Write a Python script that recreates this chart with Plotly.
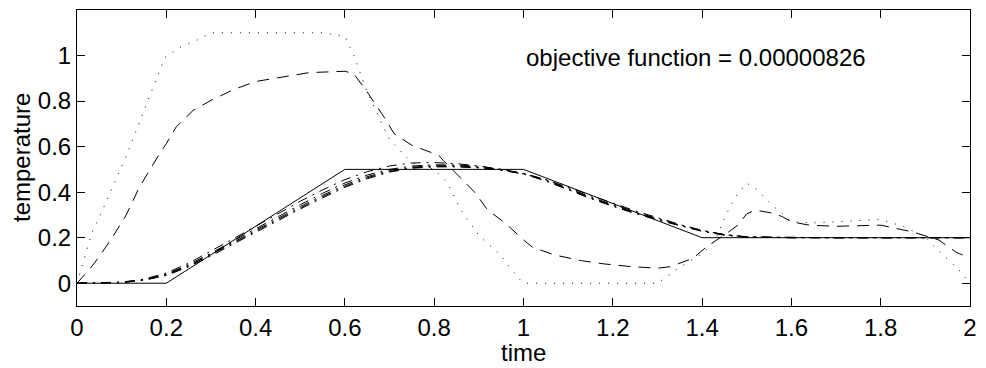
import plotly.graph_objects as go

# target profile (solid)
x_target = [0, 0.2, 0.6, 1.0, 1.4, 2.0]
y_target = [0, 0, 0.5, 0.5, 0.2, 0.2]

# iteration 1 (dotted)
x_it1 = [0, 0.015, 0.033, 0.05, 0.067, 0.085, 0.107, 0.13, 0.152, 0.174, 0.196, 0.23, 0.267, 0.3,
         0.4, 0.5, 0.55, 0.6, 0.62, 0.65, 0.7, 0.75, 0.8, 0.83, 0.86, 0.9, 0.95, 0.985, 1.0,
         1.1, 1.2, 1.3, 1.35, 1.4, 1.43, 1.455, 1.475, 1.5, 1.525, 1.55, 1.6, 1.65, 1.7, 1.8,
         1.85, 1.9, 1.92, 1.95, 1.975, 2.0]
y_it1 = [0, 0.10, 0.22, 0.29, 0.365, 0.445, 0.543, 0.657, 0.766, 0.876, 0.99, 1.036, 1.066, 1.1,
         1.1, 1.1, 1.1, 1.085, 1.0, 0.84, 0.63, 0.53, 0.5, 0.44, 0.32, 0.21, 0.12, 0.03, 0.0,
         0.0, 0.0, 0.0, 0.07, 0.13, 0.19, 0.307, 0.379, 0.44, 0.409, 0.355, 0.27, 0.265, 0.27, 0.28,
         0.25, 0.204, 0.16, 0.105, 0.06, 0.0]

# iteration 2 (dashed)
x_it2 = [0, 0.03, 0.05, 0.08, 0.11, 0.14, 0.185, 0.2, 0.222, 0.26, 0.3, 0.35, 0.4, 0.48, 0.52,
         0.6, 0.62, 0.65, 0.69, 0.71, 0.75, 0.77, 0.81, 0.82, 0.85, 0.89, 0.92, 0.96, 1.0, 1.02,
         1.07, 1.13, 1.18, 1.24, 1.3, 1.33, 1.38, 1.41, 1.46, 1.48, 1.5, 1.52, 1.56, 1.58, 1.6,
         1.64, 1.7, 1.8, 1.87, 1.93, 1.97, 2.0]
y_it2 = [0, 0.066, 0.117, 0.204, 0.299, 0.423, 0.569, 0.613, 0.686, 0.759, 0.803, 0.85, 0.886, 0.912, 0.925,
         0.931, 0.92, 0.84, 0.723, 0.657, 0.606, 0.591, 0.562, 0.54, 0.482, 0.401, 0.321, 0.263, 0.19, 0.158,
         0.124, 0.099, 0.085, 0.073, 0.066, 0.073, 0.11, 0.16, 0.226, 0.255, 0.305, 0.321, 0.307, 0.292, 0.27,
         0.255, 0.25, 0.255, 0.226, 0.19, 0.135, 0.11]

# later iterations (dash-dot), nearly converged
x_it = [0, 0.1, 0.15, 0.2, 0.25, 0.3, 0.35, 0.4, 0.45, 0.5, 0.55, 0.6, 0.65, 0.7, 0.75, 0.8, 0.85,
        0.9, 0.95, 1.0, 1.05, 1.1, 1.15, 1.2, 1.25, 1.3, 1.35, 1.4, 1.45, 1.5, 1.6, 1.7, 1.8, 1.9, 2.0]
y_it3 = [0, 0.005, 0.018, 0.045, 0.088, 0.14, 0.195, 0.25, 0.305, 0.36, 0.41, 0.455, 0.49, 0.515, 0.528,
         0.53, 0.525, 0.515, 0.5, 0.48, 0.455, 0.42, 0.385, 0.35, 0.318, 0.288, 0.258, 0.232, 0.213, 0.203,
         0.2, 0.2, 0.2, 0.2, 0.2]
y_it4 = [0, 0.004, 0.016, 0.04, 0.082, 0.132, 0.186, 0.24, 0.293, 0.345, 0.395, 0.44, 0.475, 0.5, 0.515,
         0.52, 0.52, 0.513, 0.5, 0.483, 0.455, 0.417, 0.38, 0.345, 0.313, 0.285, 0.256, 0.232, 0.214, 0.204,
         0.2, 0.2, 0.2, 0.2, 0.2]
y_it5 = [0, 0.004, 0.015, 0.038, 0.078, 0.128, 0.18, 0.233, 0.286, 0.337, 0.386, 0.432, 0.468, 0.495, 0.51,
         0.516, 0.516, 0.51, 0.498, 0.482, 0.452, 0.414, 0.376, 0.342, 0.31, 0.282, 0.254, 0.23, 0.213, 0.203,
         0.2, 0.2, 0.2, 0.2, 0.2]
y_it6 = [0, 0.003, 0.014, 0.036, 0.075, 0.124, 0.176, 0.228, 0.28, 0.331, 0.38, 0.426, 0.463, 0.491, 0.507,
         0.513, 0.513, 0.508, 0.497, 0.481, 0.45, 0.412, 0.374, 0.34, 0.308, 0.28, 0.253, 0.229, 0.212, 0.203,
         0.2, 0.2, 0.2, 0.2, 0.2]
y_it7 = [0, 0.003, 0.013, 0.034, 0.072, 0.12, 0.172, 0.224, 0.276, 0.326, 0.375, 0.421, 0.459, 0.488, 0.505,
         0.511, 0.511, 0.506, 0.496, 0.48, 0.449, 0.41, 0.372, 0.338, 0.306, 0.278, 0.252, 0.228, 0.211, 0.202,
         0.2, 0.2, 0.2, 0.2, 0.2]

x_ticks = [0, 0.2, 0.4, 0.6, 0.8, 1, 1.2, 1.4, 1.6, 1.8, 2]
x_ticklabels = ["0", "0.2", "0.4", "0.6", "0.8", "1", "1.2", "1.4", "1.6", "1.8", "2"]
y_ticks = [0, 0.2, 0.4, 0.6, 0.8, 1]
y_ticklabels = ["0", "0.2", "0.4", "0.6", "0.8", "1"]

annotation_text = "objective function = 0.00000826"

FONT = "Liberation Sans, Arial, Helvetica, sans-serif"
FS = 24

fig = go.Figure()
fig.add_trace(go.Scatter(x=x_target, y=y_target, mode="lines",
                         line=dict(color="black", width=1)))
fig.add_trace(go.Scatter(x=x_it1, y=y_it1, mode="lines",
                         line=dict(color="black", width=1, dash="1px,8px")))
fig.add_trace(go.Scatter(x=x_it2, y=y_it2, mode="lines",
                         line=dict(color="black", width=1, dash="12px,8px")))
for yy in [y_it3, y_it4, y_it5, y_it6, y_it7]:
    fig.add_trace(go.Scatter(x=x_it, y=yy, mode="lines",
                             line=dict(color="black", width=1, dash="10px,6px,2px,6px")))

axis_common = dict(showline=True, linecolor="black", linewidth=1, mirror="ticks",
                   ticks="inside", ticklen=8, tickwidth=1, tickcolor="black",
                   showgrid=False, zeroline=False,
                   tickfont=dict(family=FONT, size=FS, color="black"))

fig.update_xaxes(range=[0, 2], tickvals=x_ticks, ticktext=x_ticklabels, **axis_common)
fig.update_yaxes(range=[-0.1, 1.2], tickvals=y_ticks, ticktext=y_ticklabels, **axis_common)

fig.add_annotation(x=1.0, y=0.99, xref="x", yref="y", text=annotation_text,
                   showarrow=False, xanchor="left", yanchor="middle",
                   font=dict(family=FONT, size=FS, color="black"))
fig.add_annotation(x=0.5, y=0, xref="paper", yref="paper", text="time",
                   showarrow=False, xanchor="center", yanchor="middle", yshift=-46,
                   font=dict(family=FONT, size=FS, color="black"))
fig.add_annotation(x=0, y=0.5, xref="paper", yref="paper", text="temperature",
                   showarrow=False, xanchor="center", yanchor="middle", xshift=-56,
                   textangle=-90,
                   font=dict(family=FONT, size=FS, color="black"))

fig.update_layout(width=986, height=368, showlegend=False,
                  paper_bgcolor="white", plot_bgcolor="white",
                  margin=dict(l=77, r=9, t=10, b=62))

fig.write_html("out.html", config={"displayModeBar": False, "staticPlot": True},
               post_script="document.body.style.margin='0px';document.body.style.overflow='hidden';")
